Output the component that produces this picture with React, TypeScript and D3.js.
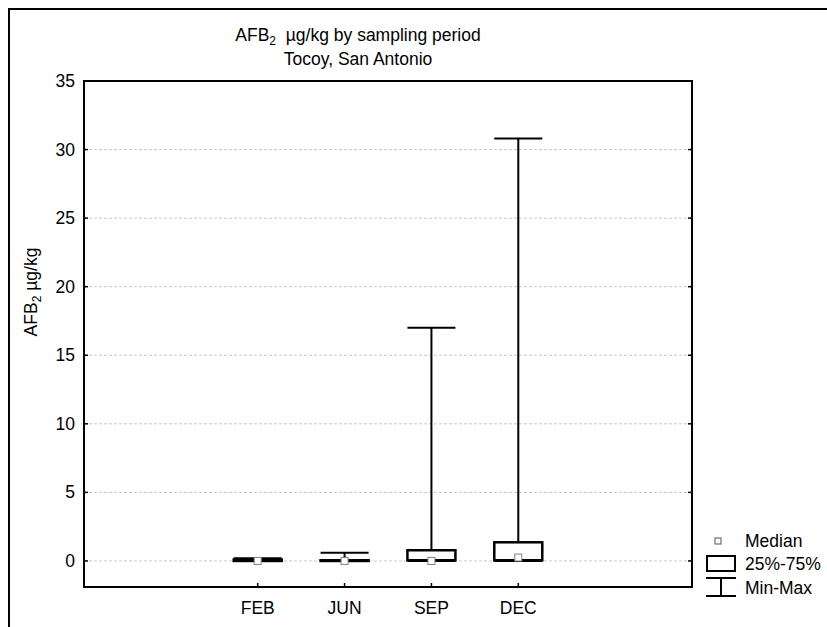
import React, { useRef, useEffect } from 'react';
import * as d3 from 'd3';

// sampling periods and box stats
const periods = ['FEB', 'JUN', 'SEP', 'DEC'];
const minVals = [0, 0, 0, 0];
const q1Vals = [0, 0, 0.05, 0.05];
const medianVals = [0, 0, 0, 0.25];
const q3Vals = [0.1, 0.05, 0.78, 1.36];
const maxVals = [0.2, 0.6, 17.0, 30.8];
const yTicks = [0, 5, 10, 15, 20, 25, 30, 35];

const W = 827;
const H = 627;
const FONT = '"Liberation Sans", Arial, sans-serif';
const FS = '17.5px';

const App = () => {
  const svgRef = useRef<SVGSVGElement>(null);

  useEffect(() => {
    const root = d3.select(svgRef.current);
    root.selectAll('*').remove();

    const left = 84, right = 692, top = 81, bottom = 587;

    const x = d3.scalePoint<string>().domain(periods).range([left, right]).padding(2);
    const y = d3.scaleLinear().domain([-1.9, 35]).range([bottom, top]);
    const boxW = 48;

    // outer frame (cut by window on right / bottom)
    root.append('rect')
      .attr('x', 9).attr('y', 9).attr('width', 900).attr('height', 800)
      .attr('fill', 'none').attr('stroke', '#000').attr('stroke-width', 2);

    // grid
    root.append('g').selectAll('line')
      .data(yTicks)
      .enter().append('line')
      .attr('x1', left).attr('x2', right)
      .attr('y1', d => y(d)).attr('y2', d => y(d))
      .attr('stroke', '#c8c8c8').attr('stroke-width', 1)
      .attr('stroke-dasharray', '3,2');

    // y tick labels + ticks (inside, both sides)
    const yt = root.append('g');
    yt.selectAll('text').data(yTicks).enter().append('text')
      .attr('x', 75).attr('y', d => y(d) + 6)
      .attr('text-anchor', 'end')
      .style('font-family', FONT).style('font-size', FS)
      .text(d => d);
    yt.selectAll('line.l').data(yTicks).enter().append('line')
      .attr('class', 'l')
      .attr('x1', left).attr('x2', left + 4)
      .attr('y1', d => y(d)).attr('y2', d => y(d))
      .attr('stroke', '#000').attr('stroke-width', 1.5);
    yt.selectAll('line.r').data(yTicks).enter().append('line')
      .attr('class', 'r')
      .attr('x1', right).attr('x2', right - 4)
      .attr('y1', d => y(d)).attr('y2', d => y(d))
      .attr('stroke', '#000').attr('stroke-width', 1.5);

    // x tick labels + ticks
    const xt = root.append('g');
    xt.selectAll('text').data(periods).enter().append('text')
      .attr('x', d => x(d)!).attr('y', 614)
      .attr('text-anchor', 'middle')
      .style('font-family', FONT).style('font-size', FS)
      .text(d => d);
    xt.selectAll('line').data(periods).enter().append('line')
      .attr('x1', d => x(d)!).attr('x2', d => x(d)!)
      .attr('y1', bottom).attr('y2', bottom - 4)
      .attr('stroke', '#000').attr('stroke-width', 1.5);

    // boxes
    const g = root.append('g');
    periods.forEach((p, i) => {
      const cx = x(p)!;
      g.append('line')
        .attr('x1', cx).attr('x2', cx)
        .attr('y1', y(maxVals[i])).attr('y2', y(q3Vals[i]))
        .attr('stroke', '#000').attr('stroke-width', 2);
      g.append('line')
        .attr('x1', cx).attr('x2', cx)
        .attr('y1', y(q1Vals[i])).attr('y2', y(minVals[i]))
        .attr('stroke', '#000').attr('stroke-width', 2);
      g.append('line')
        .attr('x1', cx - boxW / 2).attr('x2', cx + boxW / 2)
        .attr('y1', y(maxVals[i])).attr('y2', y(maxVals[i]))
        .attr('stroke', '#000').attr('stroke-width', 2);
      g.append('line')
        .attr('x1', cx - boxW / 2).attr('x2', cx + boxW / 2)
        .attr('y1', y(minVals[i])).attr('y2', y(minVals[i]))
        .attr('stroke', '#000').attr('stroke-width', 2);
      g.append('rect')
        .attr('x', cx - boxW / 2).attr('width', boxW)
        .attr('y', y(q3Vals[i]))
        .attr('height', Math.max(y(q1Vals[i]) - y(q3Vals[i]), 0.5))
        .attr('fill', '#fff').attr('stroke', '#000').attr('stroke-width', 2.5);
      g.append('rect')
        .attr('x', cx - 3.5).attr('y', y(medianVals[i]) - 3.5)
        .attr('width', 7).attr('height', 7)
        .attr('fill', '#fff').attr('stroke', '#808080').attr('stroke-width', 1);
    });

    // plot frame
    root.append('rect')
      .attr('x', left).attr('y', top)
      .attr('width', right - left).attr('height', bottom - top)
      .attr('fill', 'none').attr('stroke', '#000').attr('stroke-width', 2);

    // title
    const title = root.append('text')
      .attr('x', 358).attr('text-anchor', 'middle')
      .style('font-family', FONT).style('font-size', FS);
    title.append('tspan').attr('x', 358).attr('y', 41).text('AFB');
    title.append('tspan').attr('dy', 4).style('font-size', '12px').text('2');
    title.append('tspan').attr('dy', -4).style('white-space', 'pre').text('  µg/kg by sampling period');
    root.append('text')
      .attr('x', 358).attr('y', 65).attr('text-anchor', 'middle')
      .style('font-family', FONT).style('font-size', FS)
      .text('Tocoy, San Antonio');

    // y axis label
    const yl = root.append('text')
      .attr('transform', 'translate(37,292) rotate(-90)')
      .attr('text-anchor', 'middle')
      .style('font-family', FONT).style('font-size', FS);
    yl.append('tspan').text('AFB');
    yl.append('tspan').attr('dy', 4).style('font-size', '12px').text('2');
    yl.append('tspan').attr('dy', -4).text(' µg/kg');

    // legend
    const lg = root.append('g').style('font-family', FONT).style('font-size', FS);
    lg.append('rect')
      .attr('x', 715).attr('y', 538).attr('width', 6).attr('height', 6)
      .attr('fill', '#fff').attr('stroke', '#555').attr('stroke-width', 1);
    lg.append('text').attr('x', 745).attr('y', 547).text('Median');
    lg.append('rect')
      .attr('x', 707).attr('y', 556).attr('width', 28).attr('height', 15)
      .attr('fill', '#fff').attr('stroke', '#000').attr('stroke-width', 2);
    lg.append('text').attr('x', 745).attr('y', 570).text('25%-75%');
    lg.append('line').attr('x1', 706).attr('x2', 736).attr('y1', 578).attr('y2', 578)
      .attr('stroke', '#000').attr('stroke-width', 2);
    lg.append('line').attr('x1', 706).attr('x2', 736).attr('y1', 596).attr('y2', 596)
      .attr('stroke', '#000').attr('stroke-width', 2);
    lg.append('line').attr('x1', 721).attr('x2', 721).attr('y1', 578).attr('y2', 596)
      .attr('stroke', '#000').attr('stroke-width', 2);
    lg.append('text').attr('x', 745).attr('y', 594).text('Min-Max');
  }, []);

  return (
    <svg
      ref={svgRef}
      width={W}
      height={H}
      style={{ position: 'absolute', left: 0, top: 0, background: '#fff' }}
    />
  );
};

export default App;
